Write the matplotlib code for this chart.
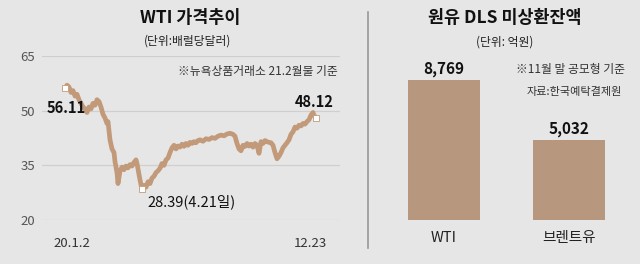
import matplotlib.pyplot as plt

plt.rcParams['font.family'] = ['Noto Sans CJK KR', 'DejaVu Sans']

# WTI 가격추이 (거래일 인덱스, 배럴당 달러)
wti_day = [0, 2, 4, 6, 8, 10, 12, 14, 16, 18, 20, 22, 24, 26, 28, 30, 32, 34, 36,
           38, 40, 42, 43, 45, 47, 49, 50, 52, 53, 55, 57, 59, 61, 63, 65, 67, 69,
           71, 72, 74, 75, 77, 79, 81, 83, 85, 87, 89, 91, 93, 95, 97, 99, 101, 103,
           105, 107, 109, 111, 113, 115, 117, 119, 121, 123, 125, 127, 129, 131, 133,
           135, 138, 141, 144, 147, 150, 153, 156, 159, 162, 165, 168, 170, 172, 174,
           176, 178, 180, 182, 184, 186, 188, 190, 192, 194, 196, 198, 200, 202, 204,
           206, 208, 210, 212, 214, 216, 218, 220, 222, 224, 226, 228, 230, 232, 234,
           236, 238, 240, 242, 244, 246, 248, 249, 251]
wti_price = [56.11, 57.0, 56.5, 55.0, 55.5, 54.0, 54.5, 53.0, 52.0, 51.0, 50.5, 49.5,
             51.0, 50.5, 52.0, 51.5, 53.0, 52.5, 51.0, 49.0, 48.0, 46.5, 47.0, 42.0,
             39.5, 38.5, 36.0, 33.0, 30.0, 33.5, 34.5, 33.8, 34.8, 34.3, 35.2, 34.8,
             35.8, 36.5, 35.5, 32.5, 31.0, 28.39, 29.5, 29.0, 30.5, 30.0, 31.5, 32.0,
             33.0, 33.5, 34.2, 35.5, 35.0, 36.5, 37.0, 38.5, 39.8, 40.5, 39.5, 40.3,
             40.0, 40.8, 40.2, 41.0, 40.5, 41.3, 41.0, 41.5, 41.2, 41.8, 42.0, 41.6,
             42.3, 42.1, 42.6, 42.4, 43.0, 43.3, 43.1, 43.6, 43.8, 43.5, 43.0, 41.0,
             39.5, 39.0, 40.5, 40.2, 41.0, 40.3, 40.8, 40.0, 41.0, 40.5, 38.3, 41.5,
             41.0, 41.8, 41.5, 41.3, 41.2, 40.5, 38.5, 36.8, 37.5, 38.5, 39.8, 40.5,
             41.2, 42.0, 43.5, 44.2, 45.5, 45.2, 46.0, 45.8, 46.5, 46.3, 47.0, 47.5,
             48.8, 49.5, 48.7, 48.12]
wti_ticks = [20, 35, 50, 65]
wti_xlabels = ['20.1.2', '12.23']

# 원유 DLS 미상환잔액 (억원)
dls_names = ['WTI', '브렌트유']
dls_values = [8769, 5032]

bg = '#e6e6e6'
line_color = '#c29a79'
bar_color = '#b8977f'
W, H = 640, 264

fig = plt.figure(figsize=(6.4, 2.64), dpi=100, facecolor=bg)


def box(x0, y0, x1, y1):
    # 픽셀 좌표(위에서 아래로) -> figure 비율
    return [x0 / W, 1 - y1 / H, (x1 - x0) / W, (y1 - y0) / H]


# ---- 왼쪽: WTI 가격추이 ----
ax = fig.add_axes(box(42, 56, 340, 220))
ax.set_facecolor(bg)
ax.plot(wti_day, wti_price, color=line_color, lw=3.4, solid_joinstyle='round', zorder=3)
ax.set_xlim(-23, 275)
ax.set_ylim(20, 65)
ax.set_yticks(wti_ticks)
ax.grid(axis='y', color='#cfcfcf', lw=0.9)
ax.tick_params(length=0, labelsize=9.5, colors='#555555', pad=5)
ax.set_xticks([wti_day[0] + 7, wti_day[-1] - 6])
ax.set_xticklabels(wti_xlabels)
ax.tick_params(axis='x', pad=12, labelcolor='#333333')
for s in ax.spines.values():
    s.set_visible(False)

imin = wti_price.index(min(wti_price))
for i in (0, imin, len(wti_day) - 1):
    ax.plot(wti_day[i], wti_price[i], 's', ms=4, mfc='white', mec=line_color,
            mew=0.6, zorder=4)
ax.annotate(f'{wti_price[0]:.2f}', (wti_day[0], wti_price[0]), xytext=(-13, -14),
            textcoords='offset points', fontsize=10.5, fontweight='bold', color='#111111',
            va='center')
ax.annotate(f'{wti_price[-1]:.2f}', (wti_day[-1], wti_price[-1]), xytext=(-1, 11),
            textcoords='offset points', fontsize=10.5, fontweight='bold', color='#111111',
            ha='center', va='center')
ax.annotate(f'{wti_price[imin]:.2f}(4.21일)', (wti_day[imin], wti_price[imin]),
            xytext=(4, -9), textcoords='offset points', fontsize=10.5, color='#111111',
            va='center')

fig.text(190 / W, 1 - 18 / H, 'WTI 가격추이', ha='center', va='center',
         fontsize=12.5, fontweight='bold', color='#111111')
fig.text(188 / W, 1 - 41 / H, '(단위:배럴당달러)', ha='center', va='center',
         fontsize=8.5, color='#222222')
fig.text(338 / W, 1 - 71 / H, '※뉴욕상품거래소 21.2월물 기준', ha='right', va='center',
         fontsize=8.5, color='#333333')

# 구분선
fig.add_artist(plt.Line2D([368 / W, 368 / W], [1 - 12 / H, 1 - 248 / H],
                          color='#999999', lw=1.2))

# ---- 오른쪽: 원유 DLS 미상환잔액 ----
bx = fig.add_axes(box(390, 56, 623, 220))
bx.set_facecolor('none')
bx.bar(range(len(dls_values)), dls_values, width=0.576, color=bar_color)
bx.set_xlim(-0.432, 1.432)
bx.set_ylim(0, 10272)
bx.set_yticks([])
bx.set_xticks(range(len(dls_names)))
bx.set_xticklabels(dls_names, fontsize=10.5, color='#222222')
bx.tick_params(length=0, pad=8)
for s in bx.spines.values():
    s.set_visible(False)
for i, v in enumerate(dls_values):
    bx.annotate(f'{v:,}', (i, v), xytext=(0, 8), textcoords='offset points',
                ha='center', va='center', fontsize=11, fontweight='bold', color='#111111')

fig.text(505 / W, 1 - 18 / H, '원유 DLS 미상환잔액', ha='center', va='center',
         fontsize=12.5, fontweight='bold', color='#111111')
fig.text(505 / W, 1 - 42 / H, '(단위: 억원)', ha='center', va='center',
         fontsize=8.5, color='#222222')
fig.text(625 / W, 1 - 70 / H, '※11월 말 공모형 기준', ha='right', va='center',
         fontsize=8.5, color='#333333')
fig.text(622 / W, 1 - 92 / H, '자료:한국예탁결제원', ha='right', va='center',
         fontsize=8, color='#333333')

fig.savefig('out.png', dpi=100, facecolor=bg)
